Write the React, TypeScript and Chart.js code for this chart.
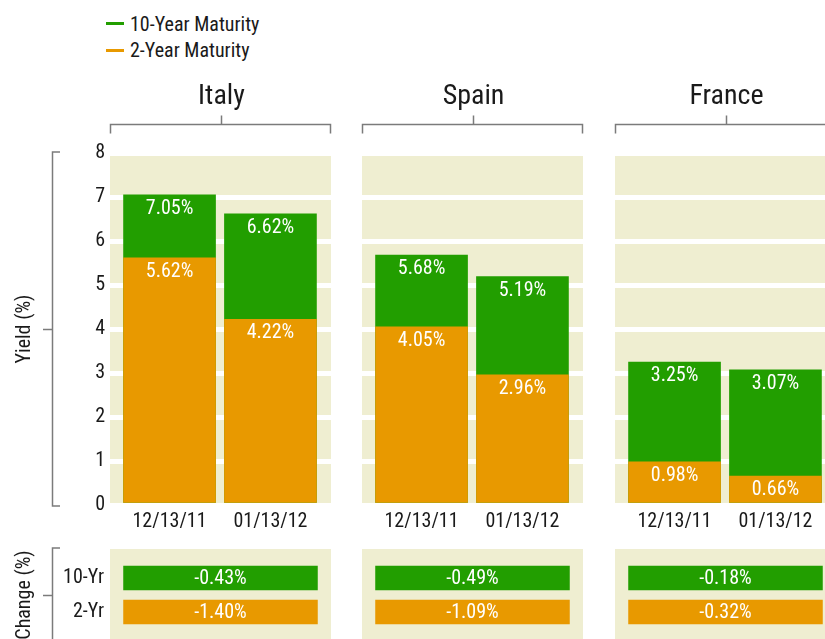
import React, { useEffect, useRef } from 'react';
import { Chart, registerables } from 'chart.js';

Chart.register(...registerables);

// ---------- data ----------
const COUNTRIES = ['Italy', 'Spain', 'France'];
const DATES = ['12/13/11', '01/13/12'];
const LEGEND_LABELS = ['10-Year Maturity', '2-Year Maturity'];
const YIELD_10YR = [
  [7.05, 6.62], // Italy
  [5.68, 5.19], // Spain
  [3.25, 3.07], // France
];
const YIELD_2YR = [
  [5.62, 4.22], // Italy
  [4.05, 2.96], // Spain
  [0.98, 0.66], // France
];
const CHANGE_ROWS = ['10-Yr', '2-Yr'];
const CHANGE_10YR = [-0.43, -0.49, -0.18];
const CHANGE_2YR = [-1.4, -1.09, -0.32];
const YIELD_MIN = 0;
const YIELD_MAX = 8;

// ---------- styles ----------
const FONT = "'Liberation Sans Narrow', 'Roboto Condensed', 'DejaVu Sans Condensed', 'Arial Narrow', sans-serif";
const GREEN = '#229E00';
const ORANGE = '#E89900';
const BEIGE = '#EFEED1';
const INK = '#1A1A1A';
const BRACKET = '#7B7B7B';

Chart.defaults.font.family = FONT;
Chart.defaults.color = INK;

const fmt = (v: number) => v.toFixed(2) + '%';

const decorPlugin = {
  id: 'decor',
  beforeDraw(chart: any) {
    const { ctx, chartArea: a } = chart;
    ctx.save();
    ctx.fillStyle = BEIGE;
    ctx.fillRect(a.left, a.top, a.right - a.left, a.bottom - a.top);
    ctx.restore();
  },
  afterDatasetsDraw(chart: any, _args: any, opts: any) {
    const { ctx } = chart;
    ctx.save();
    ctx.fillStyle = '#FFFFFF';
    ctx.font = `20px ${FONT}`;
    ctx.textAlign = 'center';
    ctx.textBaseline = 'middle';
    chart.data.datasets.forEach((ds: any, di: number) => {
      const meta = chart.getDatasetMeta(di);
      meta.data.forEach((el: any, i: number) => {
        const text = ds.valueText[i];
        if (opts.horizontal) ctx.fillText(text, (el.x + el.base) / 2, el.y + 1);
        else ctx.fillText(text, el.x, el.y + 14);
      });
    });
    ctx.restore();
  },
  afterDraw(chart: any, _args: any, opts: any) {
    const { ctx, chartArea: a } = chart;
    ctx.save();
    ctx.strokeStyle = BRACKET;
    ctx.lineWidth = 1.5;
    if (opts.title) {
      const cx = Math.round((a.left + a.right) / 2) + 0.5;
      const yLine = a.top - 28.5;
      ctx.beginPath();
      ctx.moveTo(a.left + 0.5, yLine + 9);
      ctx.lineTo(a.left + 0.5, yLine);
      ctx.lineTo(a.right - 0.5, yLine);
      ctx.lineTo(a.right - 0.5, yLine + 9);
      ctx.moveTo(cx, yLine);
      ctx.lineTo(cx, yLine - 9);
      ctx.stroke();
      ctx.fillStyle = INK;
      ctx.font = `28px ${FONT}`;
      ctx.textAlign = 'center';
      ctx.textBaseline = 'middle';
      ctx.fillText(opts.title, cx, a.top - 56);
    }
    if (opts.yBracket) {
      const x = 52.5;
      const t = a.top - 1;
      const b = a.bottom + 1;
      const m = Math.round((t + b) / 2) + 0.5;
      ctx.beginPath();
      ctx.moveTo(60, t);
      ctx.lineTo(x, t);
      ctx.lineTo(x, b);
      ctx.lineTo(60, b);
      ctx.moveTo(43, m);
      ctx.lineTo(x, m);
      ctx.stroke();
    }
    ctx.restore();
  },
};

function topConfig(ci: number, showAxis: boolean, padLeft: number): any {
  return {
    type: 'bar',
    data: {
      datasets: [
        {
          label: LEGEND_LABELS[0],
          data: DATES.map((_, i) => ({ x: i, y: YIELD_10YR[ci][i] })),
          valueText: YIELD_10YR[ci].map(fmt),
          backgroundColor: GREEN,
          order: 2,
        },
        {
          label: LEGEND_LABELS[1],
          data: DATES.map((_, i) => ({ x: i, y: YIELD_2YR[ci][i] })),
          valueText: YIELD_2YR[ci].map(fmt),
          backgroundColor: ORANGE,
          order: 1,
        },
      ],
    },
    options: {
      responsive: false,
      animation: false,
      events: [],
      layout: { padding: { top: 93, left: padLeft, right: 9, bottom: 0 } },
      datasets: { bar: { barThickness: 92, grouped: false, borderWidth: 0 } },
      plugins: {
        legend: { display: false },
        tooltip: { enabled: false },
        decor: { title: COUNTRIES[ci], yBracket: showAxis, horizontal: false },
      },
      scales: {
        x: {
          type: 'linear',
          bounds: 'data',
          offset: false,
          min: -0.59,
          max: 1.6,
          afterBuildTicks: (s: any) => {
            s.ticks = DATES.map((_, i) => ({ value: i }));
          },
          afterFit: (s: any) => {
            s.height = 35;
          },
          grid: { display: false, drawTicks: false },
          border: { display: false },
          ticks: {
            callback: (v: any) => DATES[v] ?? '',
            color: INK,
            font: { size: 20 },
            padding: 5,
            maxRotation: 0,
            autoSkip: false,
          },
        },
        y: {
          type: 'linear',
          min: YIELD_MIN,
          max: YIELD_MAX,
          afterFit: (s: any) => {
            s.width = showAxis ? 110 : 0;
          },
          grid: { color: '#FFFFFF', lineWidth: 5, drawTicks: false },
          border: { display: false },
          ticks: { display: showAxis, stepSize: 1, color: INK, font: { size: 20 }, padding: 5 },
          title: {
            display: showAxis,
            text: 'Yield (%)',
            color: INK,
            font: { size: 20 },
            padding: { top: 13, bottom: 0 },
          },
        },
      },
    },
    plugins: [decorPlugin],
  };
}

function changeConfig(ci: number, showAxis: boolean, padLeft: number): any {
  return {
    type: 'bar',
    data: {
      datasets: [
        {
          label: CHANGE_ROWS[0],
          data: [{ x: [0, 1], y: 0 }],
          valueText: [fmt(CHANGE_10YR[ci])],
          backgroundColor: GREEN,
        },
        {
          label: CHANGE_ROWS[1],
          data: [{ x: [0, 1], y: 1 }],
          valueText: [fmt(CHANGE_2YR[ci])],
          backgroundColor: ORANGE,
        },
      ],
    },
    options: {
      indexAxis: 'y',
      responsive: false,
      animation: false,
      events: [],
      layout: { padding: { top: 9, left: padLeft, right: 9, bottom: 9 } },
      datasets: { bar: { barThickness: 24, grouped: false, borderWidth: 0 } },
      plugins: {
        legend: { display: false },
        tooltip: { enabled: false },
        decor: { title: null, yBracket: showAxis, horizontal: true },
      },
      scales: {
        x: { type: 'linear', display: false, bounds: 'data', min: -0.07, max: 1.07 },
        y: {
          type: 'linear',
          display: showAxis,
          reverse: true,
          bounds: 'data',
          offset: false,
          min: -0.853,
          max: 1.853,
          afterBuildTicks: (s: any) => {
            s.ticks = CHANGE_ROWS.map((_, i) => ({ value: i }));
          },
          afterFit: (s: any) => {
            s.width = showAxis ? 110 : 0;
            s.paddingTop = 0;
            s.paddingBottom = 0;
          },
          grid: { display: false, drawTicks: false },
          border: { display: false },
          ticks: {
            callback: (v: any) => CHANGE_ROWS[v] ?? '',
            color: INK,
            font: { size: 20 },
            padding: 6,
            autoSkip: false,
          },
          title: {
            display: true,
            text: 'Change (%)',
            color: INK,
            font: { size: 20 },
            padding: { top: 13, bottom: 0 },
          },
        },
      },
    },
    plugins: [decorPlugin],
  };
}

function ChartBox(props: { left: number; top: number; width: number; height: number; build: () => any }) {
  const ref = useRef<HTMLCanvasElement | null>(null);
  useEffect(() => {
    const chart = new Chart(ref.current as HTMLCanvasElement, props.build());
    return () => chart.destroy();
  }, []);
  return (
    <canvas
      ref={ref}
      width={props.width}
      height={props.height}
      style={{ position: 'absolute', left: props.left, top: props.top, width: props.width, height: props.height }}
    />
  );
}

const PANELS = [
  { left: 0, width: 340, padLeft: 0, axis: true },
  { left: 352, width: 240, padLeft: 10, axis: false },
  { left: 605, width: 240, padLeft: 10, axis: false },
];

export default function App() {
  const legendColors = [GREEN, ORANGE];
  return (
    <div
      style={{
        position: 'absolute',
        left: 0,
        top: 0,
        width: 825,
        height: 639,
        overflow: 'hidden',
        background: '#FFFFFF',
        fontFamily: FONT,
      }}
    >
      {LEGEND_LABELS.map((label, i) => (
        <React.Fragment key={label}>
          <div
            style={{
              position: 'absolute',
              left: 106,
              top: 22 + i * 27,
              width: 18,
              height: 2.5,
              background: legendColors[i],
            }}
          />
          <div
            style={{
              position: 'absolute',
              left: 130,
              top: 12 + i * 26,
              lineHeight: '24px',
              fontSize: 20,
              color: INK,
              whiteSpace: 'nowrap',
            }}
          >
            {label}
          </div>
        </React.Fragment>
      ))}
      {PANELS.map((p, ci) => (
        <ChartBox
          key={'top' + ci}
          left={p.left}
          top={60}
          width={p.width}
          height={480}
          build={() => topConfig(ci, p.axis, p.padLeft)}
        />
      ))}
      {PANELS.map((p, ci) => (
        <ChartBox
          key={'chg' + ci}
          left={p.left}
          top={540}
          width={p.width}
          height={110}
          build={() => changeConfig(ci, p.axis, p.padLeft)}
        />
      ))}
    </div>
  );
}
